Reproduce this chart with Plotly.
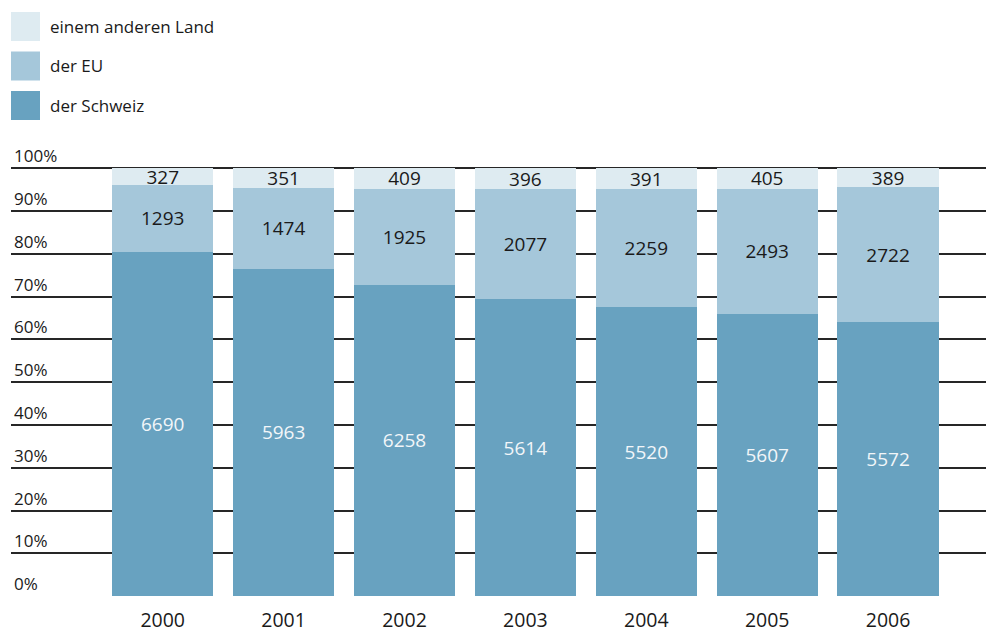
import plotly.graph_objects as go

years = ["2000", "2001", "2002", "2003", "2004", "2005", "2006"]
schweiz = [6690, 5963, 6258, 5614, 5520, 5607, 5572]
eu = [1293, 1474, 1925, 2077, 2259, 2493, 2722]
andere = [327, 351, 409, 396, 391, 405, 389]

series_names = ["der Schweiz", "der EU", "einem anderen Land"]
series_vals = [schweiz, eu, andere]
colors = ["#68a2c0", "#a5c7da", "#deebf1"]
text_colors = ["#f2f6f9", "#1a1a1a", "#1a1a1a"]
y_ticks = [0, 10, 20, 30, 40, 50, 60, 70, 80, 90, 100]

FONT = "Open Sans"
W, H = 986, 633
ML, MR, MT, MB = 11, 0, 167, 36
PH = H - MT - MB
PW = W - ML - MR

fig = go.Figure()
for name, vals, col, tcol in zip(series_names, series_vals, colors, text_colors):
    fig.add_trace(go.Bar(
        x=years, y=vals, name=name,
        marker=dict(color=col, line=dict(width=0)),
        text=[str(v) for v in vals],
        textposition="inside",
        insidetextanchor="middle",
        textangle=0,
        textfont=dict(family=FONT, size=19, color=tcol),
        showlegend=False,
        hoverinfo="x+y+name",
    ))

# custom legend (top-left), top entry first
legend_items = list(zip(series_names, colors))[::-1]
for i, (name, col) in enumerate(legend_items):
    top = 12 + i * 39.5
    fig.add_shape(type="rect", xref="paper", yref="paper",
                  x0=0, x1=29 / PW,
                  y0=(H - MB - (top + 29)) / PH,
                  y1=(H - MB - top) / PH,
                  fillcolor=col, line=dict(width=0), layer="above")
    fig.add_annotation(xref="paper", yref="paper",
                       x=37 / PW, y=(H - MB - (top + 14.5)) / PH,
                       text=name, showarrow=False, xanchor="left", yanchor="middle",
                       font=dict(family=FONT, size=17, color="#1a1a1a"))

# y tick labels sitting above their gridlines
for t in y_ticks:
    fig.add_annotation(xref="paper", yref="y", x=1 / PW, y=t,
                       text=f"{t}%", showarrow=False,
                       xanchor="left", yanchor="bottom", yshift=-1,
                       font=dict(family=FONT, size=17, color="#1a1a1a"))

fig.update_layout(
    barmode="stack",
    barnorm="percent",
    bargap=0.163,
    width=W, height=H,
    margin=dict(l=ML, r=MR, t=MT, b=MB, autoexpand=False),
    plot_bgcolor="white", paper_bgcolor="white",
    font=dict(family=FONT, color="#1a1a1a"),
    uniformtext=dict(minsize=19, mode="show"),
    xaxis=dict(
        range=[-1.255, 6.81],
        showgrid=False, zeroline=False, showline=False,
        ticks="outside", ticklen=6, tickcolor="rgba(0,0,0,0)",
        tickfont=dict(family=FONT, size=19.5, color="#1a1a1a"),
        fixedrange=True, automargin=False,
    ),
    yaxis=dict(
        range=[-0.2, 100.3],
        tickvals=y_ticks,
        showticklabels=False,
        showgrid=True, gridcolor="#262626", gridwidth=1.5,
        zeroline=False, showline=False, ticks="",
        fixedrange=True, automargin=False,
    ),
)

fig.write_html(
    "out.html",
    config={"displayModeBar": False},
    post_script="document.body.style.margin='0';document.body.style.padding='0';document.documentElement.style.overflow='hidden';",
)
